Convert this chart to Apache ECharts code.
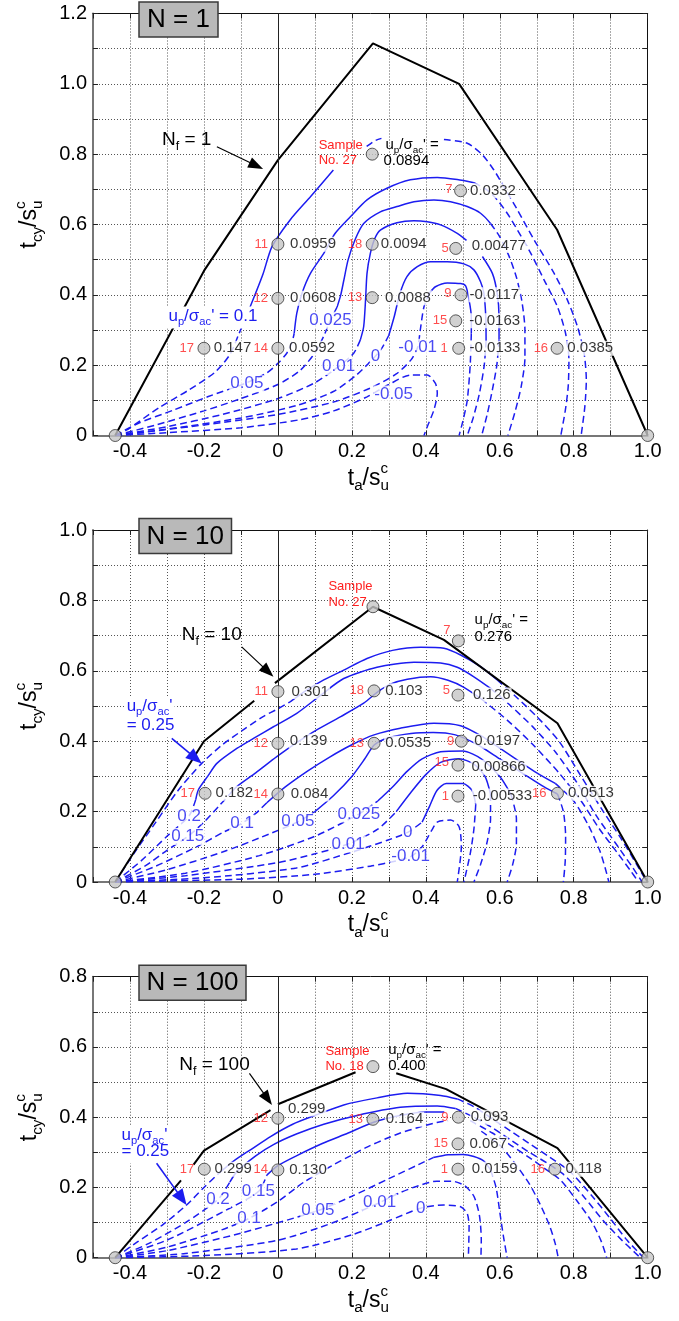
<!DOCTYPE html>
<html>
<head>
<meta charset="utf-8">
<title>Pore pressure contours</title>
<script src="https://cdn.jsdelivr.net/npm/echarts@6/dist/echarts.min.js"></script>
<style>
html,body{margin:0;padding:0;background:#fff;}
#chart{width:679px;height:1321px;}
</style>
</head>
<body>
<div id="chart"></div>
<script>
// ---------------- data ----------------
const panelTitles = ['N = 1', 'N = 10', 'N = 100'];
const panelYMax = [1.2, 1.0, 0.8];
const failureCycles = ['1', '10', '100'];
const endPoints = [[-0.44, 0], [1.0, 0]];

// failure envelopes (black)
const boundaryN1 = [
  [[-0.44,0],[-0.2,0.468],[0,0.783],[0.257,1.115],[0.49,1.0],[0.755,0.585],[1.0,0]]
];
const boundaryN10 = [
  [[-0.44,0],[-0.2,0.4],[-0.064,0.515]],
  [[-0.008,0.565],[0.257,0.782],[0.449,0.688],[0.756,0.451],[1.0,0]]
];
const boundaryN100 = [
  [[-0.44,0],[-0.262,0.22]],
  [[-0.228,0.265],[-0.2,0.305],[-0.02,0.42]],
  [[0.0,0.437],[0.21,0.528]],
  [[0.32,0.525],[0.455,0.48],[0.756,0.312],[1.0,0]]
];

// tests: [sample no., ta/su, tcy/su, up/sigma'ac]
const pointsN1 = [
  ['11',0,0.544,'0.0959'],['12',0,0.390,'0.0608'],['14',0,0.248,'0.0592'],
  ['17',-0.2,0.248,'0.147'],['18',0.255,0.544,'0.0094'],['13',0.255,0.392,'0.0088'],
  ['5',0.481,0.532,'0.00477'],['9',0.495,0.400,'-0.0117'],['15',0.481,0.326,'-0.0163'],
  ['1',0.489,0.248,'-0.0133'],['16',0.755,0.248,'0.0385'],['7',0.494,0.696,'0.0332'],
  ['27',0.255,0.800,'0.0894']
];
const pointsN10 = [
  ['11',0,0.541,'0.301'],['12',0,0.394,'0.139'],['14',0,0.250,'0.084'],
  ['17',-0.197,0.252,'0.182'],['18',0.26,0.543,'0.103'],['13',0.26,0.394,'0.0535'],
  ['5',0.487,0.531,'0.126'],['9',0.496,0.400,'0.0197'],['15',0.487,0.332,'0.00866'],
  ['1',0.487,0.244,'-0.00533'],['16',0.756,0.252,'0.0513'],['7',0.488,0.685,'0.276'],
  ['27',0.257,0.782,'']
];
const pointsN100 = [
  ['12',0,0.397,'0.299'],['17',-0.199,0.252,'0.299'],['14',0,0.250,'0.130'],
  ['13',0.257,0.394,'0.164'],['9',0.488,0.400,'0.093'],['15',0.487,0.324,'0.067'],
  ['1',0.487,0.252,'0.0159'],['16',0.749,0.252,'0.118'],['18',0.257,0.544,'0.400']
];

// contours of up/sigma'ac : [level, [[kind, points], ...]]  kind s = solid, d = dashed
const contoursN1 = [
  ['0.1', [
    ['d', [[-0.44,0],[-0.41,0.015],[-0.32,0.08],[-0.24,0.13],[-0.17,0.18],[-0.13,0.23],[-0.105,0.29],[-0.085,0.34]]],
    ['s', [[-0.085,0.34],[-0.062,0.4],[-0.04,0.46],[-0.016,0.537],[0.033,0.613],[0.088,0.679],[0.15,0.755]]],
    ['d', [[0.24,0.822],[0.262,0.838],[0.28,0.845]]],
    ['d', [[0.449,0.842],[0.512,0.831],[0.553,0.798],[0.584,0.755],[0.611,0.708],[0.648,0.641],[0.693,0.556],[0.747,0.461],[0.783,0.385],[0.81,0.31],[0.828,0.234],[0.834,0.158],[0.83,0.082],[0.82,0]]]
  ]],
  ['0.05', [
    ['d', [[-0.44,0],[-0.377,0.035],[-0.283,0.072],[-0.19,0.11],[-0.084,0.15],[-0.03,0.178],[0,0.205],[0.024,0.234],[0.038,0.265],[0.044,0.29]]],
    ['s', [[0.044,0.29],[0.051,0.347],[0.065,0.404],[0.088,0.461],[0.124,0.518],[0.155,0.575],[0.196,0.622],[0.241,0.67],[0.295,0.703],[0.358,0.727],[0.431,0.734],[0.485,0.728],[0.53,0.719]]],
    ['d', [[0.53,0.719],[0.566,0.698],[0.593,0.67],[0.62,0.632],[0.648,0.584],[0.684,0.518],[0.72,0.442],[0.756,0.366],[0.778,0.29],[0.787,0.215],[0.785,0.139],[0.777,0.07],[0.765,0]]]
  ]],
  ['0.025', [
    ['d', [[-0.44,0],[-0.33,0.03],[-0.2,0.07],[-0.1,0.105],[0,0.145],[0.06,0.185],[0.1,0.235],[0.125,0.285],[0.142,0.328],[0.16,0.365]]],
    ['s', [[0.16,0.365],[0.17,0.4],[0.178,0.44],[0.19,0.5],[0.21,0.56],[0.232,0.603],[0.277,0.636],[0.322,0.651],[0.368,0.665],[0.422,0.67],[0.467,0.665],[0.512,0.651],[0.548,0.632],[0.575,0.603]]],
    ['d', [[0.575,0.603],[0.6,0.565],[0.625,0.51],[0.645,0.45],[0.66,0.38],[0.668,0.3],[0.668,0.22],[0.658,0.14],[0.642,0.07],[0.622,0]]]
  ]],
  ['0.01', [
    ['d', [[-0.44,0],[-0.3,0.025],[-0.15,0.06],[0,0.105],[0.1,0.15],[0.164,0.196],[0.205,0.234],[0.223,0.272]]],
    ['s', [[0.223,0.272],[0.232,0.31],[0.237,0.385],[0.241,0.461],[0.25,0.518],[0.262,0.56],[0.277,0.584],[0.322,0.605],[0.368,0.611],[0.404,0.608],[0.44,0.599],[0.485,0.575],[0.51,0.555]]],
    ['s', [[0.553,0.509],[0.58,0.461],[0.593,0.404],[0.598,0.338],[0.598,0.272]]],
    ['d', [[0.598,0.272],[0.592,0.2],[0.58,0.13],[0.566,0.06],[0.551,0]]]
  ]],
  ['0', [
    ['d', [[-0.44,0],[-0.3,0.018],[-0.1,0.05],[0.05,0.085],[0.15,0.125],[0.21,0.17],[0.245,0.205],[0.264,0.226],[0.282,0.25],[0.3,0.285]]],
    ['s', [[0.3,0.285],[0.315,0.34],[0.33,0.404],[0.349,0.452],[0.377,0.48],[0.413,0.494],[0.458,0.494],[0.503,0.488],[0.53,0.471],[0.548,0.437],[0.557,0.404],[0.562,0.34],[0.563,0.27]]],
    ['d', [[0.563,0.27],[0.558,0.2],[0.545,0.12],[0.528,0.05],[0.512,0]]]
  ]],
  ['-0.01', [
    ['d', [[-0.44,0],[-0.2,0.03],[0,0.06],[0.15,0.095],[0.25,0.135],[0.32,0.175],[0.36,0.215],[0.378,0.251],[0.385,0.3],[0.395,0.366],[0.41,0.405]]],
    ['s', [[0.41,0.405],[0.426,0.423],[0.458,0.434],[0.494,0.432],[0.508,0.425],[0.517,0.385],[0.523,0.338],[0.523,0.29]]],
    ['d', [[0.523,0.29],[0.52,0.2],[0.512,0.1],[0.5,0.04],[0.49,0]]]
  ]],
  ['-0.05', [
    ['d', [[-0.44,0],[-0.3,0.008],[-0.1,0.022],[0.06,0.045],[0.151,0.07],[0.241,0.11],[0.3,0.145],[0.359,0.172],[0.404,0.172],[0.426,0.148],[0.431,0.12],[0.422,0.073],[0.404,0.025],[0.395,0]]]
  ]]
];

const contoursN10 = [
  ['0.25', [
    ['d', [[-0.44,0],[-0.39,0.08],[-0.33,0.17],[-0.27,0.26],[-0.206,0.337],[-0.15,0.39],[-0.09,0.435],[-0.04,0.47],[0,0.492],[0.033,0.512]]],
    ['s', [[0.033,0.512],[0.078,0.545],[0.124,0.574],[0.178,0.602],[0.241,0.635],[0.31,0.658],[0.386,0.667],[0.449,0.664],[0.494,0.645],[0.548,0.612],[0.593,0.574]]],
    ['d', [[0.593,0.574],[0.64,0.53],[0.7,0.47],[0.76,0.4],[0.82,0.3],[0.88,0.2],[0.93,0.12],[0.97,0.05],[0.995,0.005]]]
  ]],
  ['0.2', [
    ['d', [[-0.44,0],[-0.37,0.06],[-0.3,0.13],[-0.24,0.188],[-0.222,0.235]]],
    ['s', [[-0.222,0.235],[-0.215,0.262],[-0.19,0.3],[-0.165,0.337],[-0.11,0.38],[-0.066,0.408],[-0.012,0.441],[0.051,0.479],[0.115,0.53],[0.178,0.578],[0.268,0.61],[0.368,0.624],[0.44,0.622],[0.485,0.61],[0.53,0.583],[0.575,0.55]]],
    ['d', [[0.575,0.55],[0.63,0.5],[0.69,0.44],[0.75,0.37],[0.81,0.28],[0.86,0.19],[0.92,0.1],[0.96,0.04],[0.985,0]]]
  ]],
  ['0.15', [
    ['d', [[-0.44,0],[-0.36,0.045],[-0.3,0.09],[-0.244,0.129],[-0.2,0.17],[-0.16,0.215],[-0.13,0.25]]],
    ['s', [[-0.13,0.25],[-0.111,0.271],[-0.06,0.31],[-0.003,0.356],[0.05,0.395],[0.105,0.432],[0.17,0.47],[0.232,0.508],[0.27,0.54],[0.304,0.562],[0.35,0.576],[0.413,0.583],[0.46,0.573],[0.503,0.553],[0.55,0.52]]],
    ['d', [[0.55,0.52],[0.62,0.46],[0.69,0.39],[0.76,0.31],[0.82,0.23],[0.87,0.15],[0.92,0.08],[0.955,0.03],[0.975,0]]]
  ]],
  ['0.1', [
    ['d', [[-0.44,0],[-0.33,0.045],[-0.22,0.1],[-0.15,0.14],[-0.097,0.167],[-0.06,0.195],[-0.03,0.225]]],
    ['s', [[-0.03,0.225],[0.02,0.27],[0.08,0.315],[0.14,0.355],[0.2,0.39],[0.26,0.418],[0.331,0.437],[0.422,0.451],[0.494,0.444],[0.55,0.415],[0.6,0.38],[0.65,0.345],[0.7,0.31],[0.75,0.28]]],
    ['d', [[0.75,0.28],[0.8,0.23],[0.84,0.16],[0.87,0.09],[0.885,0.04],[0.895,0]]]
  ]],
  ['0.05', [
    ['d', [[-0.44,0],[-0.3,0.035],[-0.15,0.085],[-0.05,0.125],[0.054,0.171],[0.1,0.2]]],
    ['s', [[0.1,0.2],[0.15,0.245],[0.2,0.3],[0.235,0.35],[0.261,0.39],[0.3,0.41],[0.36,0.422],[0.42,0.425],[0.48,0.418],[0.54,0.39],[0.6,0.35],[0.66,0.31],[0.72,0.27],[0.756,0.25]]],
    ['d', [[0.756,0.25],[0.772,0.2],[0.778,0.13],[0.777,0.06],[0.772,0]]]
  ]],
  ['0.025', [
    ['d', [[-0.44,0],[-0.25,0.025],[-0.05,0.075],[0.1,0.13],[0.219,0.193],[0.27,0.23]]],
    ['s', [[0.27,0.23],[0.31,0.27],[0.35,0.315],[0.39,0.35],[0.44,0.37],[0.5,0.372],[0.55,0.35],[0.6,0.3],[0.63,0.25]]],
    ['d', [[0.63,0.25],[0.645,0.18],[0.645,0.11],[0.635,0.05],[0.62,0]]]
  ]],
  ['0.01', [
    ['d', [[-0.44,0],[-0.25,0.018],[0,0.055],[0.1,0.08],[0.19,0.108],[0.27,0.15],[0.32,0.2]]],
    ['s', [[0.32,0.2],[0.36,0.255],[0.4,0.305],[0.44,0.34],[0.49,0.35],[0.53,0.335],[0.56,0.3],[0.575,0.25]]],
    ['d', [[0.575,0.25],[0.575,0.18],[0.565,0.11],[0.548,0.05],[0.53,0]]]
  ]],
  ['0', [
    ['d', [[-0.44,0],[-0.2,0.012],[0.05,0.04],[0.2,0.085],[0.3,0.12],[0.351,0.141],[0.39,0.17]]],
    ['s', [[0.39,0.17],[0.41,0.215],[0.43,0.26],[0.455,0.28],[0.5,0.28],[0.525,0.26],[0.535,0.22]]],
    ['d', [[0.535,0.22],[0.53,0.15],[0.52,0.08],[0.503,0]]]
  ]],
  ['-0.01', [
    ['d', [[-0.44,0],[-0.1,0.008],[0.1,0.022],[0.25,0.045],[0.32,0.06],[0.359,0.072],[0.39,0.1],[0.415,0.145],[0.432,0.171],[0.467,0.176],[0.49,0.157],[0.496,0.1],[0.485,0]]]
  ]]
];

const contoursN100 = [
  ['0.25', [
    ['d', [[-0.44,0],[-0.38,0.045],[-0.31,0.095],[-0.247,0.15],[-0.2,0.2],[-0.16,0.24]]],
    ['s', [[-0.16,0.24],[-0.12,0.275],[-0.07,0.31],[-0.02,0.345],[0.04,0.38],[0.1,0.405],[0.178,0.435],[0.268,0.455],[0.35,0.468],[0.44,0.462],[0.485,0.452]]],
    ['d', [[0.485,0.452],[0.53,0.43],[0.58,0.395],[0.63,0.36],[0.68,0.325],[0.73,0.29],[0.79,0.245],[0.85,0.175],[0.9,0.11],[0.94,0.055],[0.975,0.015],[0.99,0]]]
  ]],
  ['0.2', [
    ['d', [[-0.44,0],[-0.35,0.04],[-0.25,0.1],[-0.162,0.166],[-0.13,0.215]]],
    ['s', [[-0.13,0.215],[-0.111,0.245],[-0.06,0.29],[-0.012,0.322],[0.05,0.352],[0.124,0.38],[0.214,0.405],[0.331,0.428],[0.431,0.432],[0.48,0.425]]],
    ['d', [[0.48,0.425],[0.53,0.4],[0.58,0.37],[0.63,0.335],[0.68,0.3],[0.73,0.268],[0.775,0.235],[0.83,0.17],[0.88,0.105],[0.93,0.05],[0.965,0.015],[0.98,0]]]
  ]],
  ['0.15', [
    ['d', [[-0.44,0],[-0.3,0.05],[-0.15,0.13],[-0.053,0.188],[-0.03,0.235]]],
    ['s', [[-0.03,0.235],[0,0.262],[0.05,0.29],[0.12,0.325],[0.19,0.355],[0.257,0.385],[0.33,0.405],[0.4,0.415],[0.45,0.415]]],
    ['d', [[0.52,0.39],[0.58,0.355],[0.63,0.32],[0.68,0.285],[0.72,0.255],[0.765,0.22],[0.81,0.16],[0.85,0.1],[0.875,0.045],[0.889,0]]]
  ]],
  ['0.1', [
    ['d', [[-0.44,0],[-0.3,0.03],[-0.15,0.08],[-0.078,0.112],[0,0.16],[0.07,0.215],[0.146,0.262],[0.196,0.29],[0.241,0.315],[0.295,0.34],[0.331,0.355],[0.377,0.37],[0.43,0.385],[0.46,0.39]]],
    ['d', [[0.55,0.36],[0.6,0.32],[0.64,0.27],[0.68,0.21],[0.71,0.15],[0.735,0.09],[0.75,0.04],[0.758,0]]]
  ]],
  ['0.05', [
    ['d', [[-0.44,0],[-0.3,0.02],[-0.1,0.07],[0.108,0.134],[0.2,0.175],[0.3,0.225],[0.38,0.265],[0.42,0.285]]],
    ['s', [[0.42,0.285],[0.46,0.293],[0.5,0.294],[0.53,0.288],[0.557,0.275],[0.575,0.25]]],
    ['d', [[0.575,0.25],[0.59,0.2],[0.6,0.13],[0.61,0.06],[0.62,0]]]
  ]],
  ['0.01', [
    ['d', [[-0.44,0],[-0.25,0.012],[0,0.05],[0.15,0.1],[0.275,0.157],[0.33,0.185],[0.38,0.205],[0.43,0.218],[0.47,0.218],[0.505,0.205],[0.53,0.175],[0.545,0.12],[0.55,0.05],[0.549,0]]]
  ]],
  ['0', [
    ['d', [[-0.44,0],[-0.2,0.006],[0.05,0.025],[0.2,0.065],[0.3,0.105],[0.386,0.141],[0.449,0.15],[0.494,0.145],[0.512,0.126],[0.517,0.088],[0.515,0]]]
  ]]
];

// contour level tags: [text, ta/su, tcy/su]
const contourTagsN1 = [['0.05',-0.084,0.147],['0.025',0.142,0.328],['0.01',0.164,0.196],['0',0.264,0.226],['-0.01',0.378,0.251],['-0.05',0.313,0.118]];
const contourTagsN10 = [['0.2',-0.24,0.188],['0.15',-0.244,0.129],['0.1',-0.097,0.167],['0.05',0.054,0.171],['0.025',0.219,0.193],['0.01',0.19,0.108],['0',0.351,0.141],['-0.01',0.359,0.072]];
const contourTagsN100 = [['0.2',-0.162,0.166],['0.15',-0.053,0.188],['0.1',-0.078,0.112],['0.05',0.108,0.134],['0.01',0.275,0.157],['0',0.386,0.141]];

// ---------------- layout & style ----------------
const FONT = '"Liberation Sans", Arial, Helvetica, sans-serif';
const BLUE = '#1c1cf0';
const RED = '#ff2020';

const gridRects = [
  {left: 93, top: 13.5, width: 554.7, height: 422},
  {left: 93, top: 530, width: 554.7, height: 352},
  {left: 93, top: 976.7, width: 554.7, height: 281}
];

const panels = [
  {
    points: pointsN1, contours: contoursN1, boundary: boundaryN1, tags: contourTagsN1,
    boxW: 79,
    nf: {at: [-0.3136, 0.84], from: [-0.165, 0.821], to: [-0.04, 0.758]},
    upLabels: [["u_{p}/σ_{ac}' = 0.1", -0.296, 0.338]],
    blueArrow: null,
    sample: {id: '27', no: 'No. 27', dx: -53.5, dy: [-9, 6]},
    note: {id: '27', dx: [13.2, 11.2], dy: [-9.3, 6.4]},
    valueShift: {'11':[11.7,0],'12':[11.7,0],'14':[10.7,0],'17':[9.3,0],'18':[8,0],'13':[12.3,0],'5':[15.4,-3],'9':[8,0],'15':[13,0],'1':[10.3,0],'16':[9.7,0],'7':[9,0]},
    idShift: {'5':[7,0],'9':[9.5,-1],'7':[8,-1],'15':[8.5,0],'1':[11,0],'16':[9,0]}
  },
  {
    points: pointsN10, contours: contoursN10, boundary: boundaryN10, tags: contourTagsN10,
    boxW: 92.5,
    nf: {at: [-0.26, 0.702], from: [-0.098, 0.668], to: [-0.012, 0.583]},
    upLabels: [["u_{p}/σ_{ac}'", -0.409, 0.498], ['= 0.25', -0.409, 0.444]],
    blueArrow: {from: [-0.287, 0.408], to: [-0.206, 0.337]},
    sample: {id: '27', no: 'No. 27', dx: -44.5, dy: [-20, -4]},
    note: {id: '7', dx: [16.2, 16.2], dy: [-21, -4]},
    valueShift: {'11':[13,0],'12':[11.3,-2],'14':[12.3,0],'17':[10,0],'18':[10.6,0],'13':[10.6,0],'5':[14.6,0],'9':[12.5,0],'15':[13,2],'1':[14.3,0],'16':[10,0]},
    idShift: {'5':[8,-5],'9':[7,0],'15':[9,-3],'1':[9,0],'16':[11,0],'7':[8,-10]}
  },
  {
    points: pointsN100, contours: contoursN100, boundary: boundaryN100, tags: contourTagsN100,
    boxW: 107,
    nf: {at: [-0.267, 0.549], from: [-0.077, 0.525], to: [-0.016, 0.435]},
    upLabels: [["u_{p}/σ_{ac}'", -0.423, 0.349], ['= 0.25', -0.423, 0.302]],
    blueArrow: {from: [-0.328, 0.269], to: [-0.247, 0.15]},
    sample: {id: '18', no: 'No. 18', dx: -47.5, dy: [-15, -0.6]},
    note: {id: '18', dx: [15.2, 15.2], dy: [-16.6, -0.6]},
    valueShift: {'12':[9.5,-9.3],'17':[9.6,0],'14':[10.8,0],'13':[12.3,0],'9':[12,0],'15':[11,0],'1':[13.3,0],'16':[10,0]},
    idShift: {}
  }
];

const SYM = 12;

function tickFormatter(v) {
  const k = Math.round(v * 10);
  if (k % 2 !== 0) return '';
  if (k === 0) return '0';
  return (k / 10).toFixed(1);
}

// ---------------- axes ----------------
const xAxes = [], yAxes = [];
gridRects.forEach((g, i) => {
  xAxes[i] = {
    gridIndex: i, type: 'value', min: -0.5, max: 1.0, interval: 0.1, position: 'bottom',
    axisLine: {show: true, onZero: false, lineStyle: {color: '#777', width: 2}},
    axisTick: {show: true, inside: true, length: 5, lineStyle: {color: '#222', width: 1}},
    axisLabel: {formatter: tickFormatter, fontSize: 20, color: '#000', fontFamily: FONT, margin: 6, showMinLabel: true, showMaxLabel: true},
    splitLine: {show: true, lineStyle: {color: '#555', width: 1, type: [1, 2]}}
  };
  xAxes[3 + i] = {
    gridIndex: i, type: 'value', min: -0.5, max: 1.0, interval: 0.1, position: 'top',
    axisLine: {show: true, onZero: false, lineStyle: {color: '#111', width: 1}},
    axisTick: {show: true, inside: true, length: 5, lineStyle: {color: '#222'}},
    axisLabel: {show: false}, splitLine: {show: false}
  };
  yAxes[i] = {
    gridIndex: i, type: 'value', min: 0, max: panelYMax[i], interval: 0.1, position: 'left',
    axisLine: {show: true, onZero: false, lineStyle: {color: '#777', width: 2}},
    axisTick: {show: true, inside: true, length: 5, lineStyle: {color: '#222', width: 1}},
    axisLabel: {formatter: tickFormatter, fontSize: 20, color: '#000', fontFamily: FONT, margin: 6},
    splitLine: {show: true, lineStyle: {color: '#555', width: 1, type: [1, 2]}}
  };
  yAxes[3 + i] = {
    gridIndex: i, type: 'value', min: 0, max: panelYMax[i], interval: 0.1, position: 'right',
    axisLine: {show: true, onZero: false, lineStyle: {color: '#111', width: 1}},
    axisTick: {show: true, inside: true, length: 5, lineStyle: {color: '#222'}},
    axisLabel: {show: false}, splitLine: {show: false}
  };
});

// ---------------- series ----------------
const series = [];
panels.forEach((P, i) => {
  const ax = {xAxisIndex: i, yAxisIndex: i};
  P.contours.forEach(([lvl, pieces]) => {
    pieces.forEach(([kind, pts]) => {
      series.push(Object.assign({
        type: 'line', name: 'up ' + lvl, data: pts, symbol: 'none', smooth: 0.25, silent: true, z: 3,
        lineStyle: {color: BLUE, width: 1.5, type: kind === 'd' ? [7, 4] : 'solid'}
      }, ax));
    });
  });
  P.boundary.forEach((seg, k) => {
    const s = Object.assign({
      type: 'line', name: 'failure', data: seg, symbol: 'none', silent: true, z: 4,
      lineStyle: {color: '#000', width: 2}
    }, ax);
    if (k === 0) {
      s.markLine = {silent: true, symbol: ['none', 'none'], label: {show: false},
        lineStyle: {color: '#222', width: 1, type: 'solid'}, data: [{xAxis: 0}]};
    }
    series.push(s);
  });
  // contour level tags
  series.push(Object.assign({
    type: 'scatter', name: 'tags', symbolSize: 1, silent: true, z: 6,
    itemStyle: {color: 'rgba(0,0,0,0)'},
    label: {show: true, position: 'inside', color: BLUE, fontSize: 17, fontFamily: FONT,
      backgroundColor: '#fff', padding: [0, 1], formatter: p => p.data.tag},
    data: P.tags.map(t => ({value: [t[1], t[2]], tag: t[0]}))
  }, ax));
  // red sample numbers
  series.push(Object.assign({
    type: 'scatter', name: 'ids', symbolSize: SYM, silent: true, z: 9,
    itemStyle: {color: 'rgba(0,0,0,0)', borderWidth: 0},
    data: P.points.filter(p => p[0] !== P.sample.id).map(p => {
      const sh = P.idShift[p[0]] || [10, 0];
      return {value: [p[1], p[2]], label: {show: true, position: 'left', distance: 0,
        offset: [-(sh[0] - SYM / 2), sh[1]], formatter: p[0], color: RED, fontSize: 13, fontFamily: FONT}};
    })
  }, ax));
  // test points with their values
  series.push(Object.assign({
    type: 'scatter', name: 'tests', symbolSize: SYM, silent: true, z: 10,
    itemStyle: {color: '#c6c6c6', borderColor: '#333', borderWidth: 1},
    data: P.points.map(p => {
      const plain = p[0] !== P.note.id && p[0] !== P.sample.id;
      const sh = P.valueShift[p[0]] || [11, 0];
      return {value: [p[1], p[2]], label: {show: plain, position: 'right', distance: 0,
        offset: [sh[0] - SYM / 2 - 1, sh[1]], formatter: p[3], color: '#000', fontSize: 15, fontFamily: FONT,
        backgroundColor: '#fff', padding: [0, 1]}};
    }).concat(endPoints.map(e => ({value: e, label: {show: false}})))
  }, ax));
});

const chart = echarts.init(document.getElementById('chart'), null, {renderer: 'canvas'});
chart.setOption({
  animation: false,
  backgroundColor: '#fff',
  grid: gridRects.map(g => Object.assign({containLabel: false}, g)),
  xAxis: xAxes,
  yAxis: yAxes,
  series: series
});

// ---------------- text with sub/superscripts ----------------
const measureCtx = document.createElement('canvas').getContext('2d');
function tw(t, size) { measureCtx.font = size + 'px ' + FONT; return measureCtx.measureText(t).width; }
function tx(t, x, y, size, color, align) {
  return {type: 'text', z: 101, style: {text: t, x: x, y: y, font: size + 'px ' + FONT, fill: color,
    align: align || 'left', verticalAlign: 'middle', textAlign: align || 'left', textVerticalAlign: 'middle'}};
}
function parseMath(str) {
  const segs = []; let buf = ''; let i = 0;
  while (i < str.length) {
    const c = str[i];
    if ((c === '_' || c === '^') && str[i + 1] === '{') {
      if (buf) { segs.push({t: buf, k: 'n'}); buf = ''; }
      const j = str.indexOf('}', i);
      const t = str.slice(i + 2, j);
      const last = segs[segs.length - 1];
      if (c === '^' && last && last.k === 'b' && last.sup === undefined) last.sup = t;
      else segs.push({t: t, k: c === '_' ? 'b' : 'p'});
      i = j + 1;
    } else { buf += c; i++; }
  }
  if (buf) segs.push({t: buf, k: 'n'});
  return segs;
}
function mathText(str, size, color, x, y, opts) {
  opts = opts || {};
  const small = Math.round(size * 0.66 * 10) / 10;
  const kids = []; let cx = 0;
  parseMath(str).forEach(s => {
    if (s.k === 'n') { kids.push(tx(s.t, cx, 0, size, color)); cx += tw(s.t, size); }
    else {
      const dy = s.k === 'b' ? size * 0.33 : -size * 0.4;
      kids.push(tx(s.t, cx, dy, small, color));
      let w = tw(s.t, small);
      if (s.sup !== undefined) { kids.push(tx(s.sup, cx, -size * 0.4, small, color)); w = Math.max(w, tw(s.sup, small)); }
      cx += w;
    }
  });
  const sh = opts.align === 'center' ? -cx / 2 : (opts.align === 'right' ? -cx : 0);
  kids.forEach(k => { k.style.x += sh; });
  if (opts.bg) kids.unshift({type: 'rect', z: 100, shape: {x: sh - 2, y: -size * 0.6, width: cx + 4, height: size * 1.3}, style: {fill: opts.bg}});
  return {type: 'group', x: x, y: y, rotation: opts.rotation || 0, z: 100, children: kids};
}
function arrow(p0, p1, color, headLen, headW, lw) {
  const dx = p1[0] - p0[0], dy = p1[1] - p0[1], L = Math.hypot(dx, dy), ux = dx / L, uy = dy / L;
  const bx = p1[0] - ux * headLen, by = p1[1] - uy * headLen;
  return [
    {type: 'line', z: 100, shape: {x1: p0[0], y1: p0[1], x2: bx + ux * 2, y2: by + uy * 2}, style: {stroke: color, lineWidth: lw}},
    {type: 'polygon', z: 100, shape: {points: [[p1[0], p1[1]], [bx - uy * headW / 2, by + ux * headW / 2], [bx + uy * headW / 2, by - ux * headW / 2]]}, style: {fill: color}}
  ];
}

// ---------------- annotations ----------------
const graphics = [];
panels.forEach((P, i) => {
  const g = gridRects[i];
  const px = d => chart.convertToPixel({xAxisIndex: i, yAxisIndex: i}, d);

  // panel box
  graphics.push({type: 'rect', z: 100, shape: {x: g.left + 46, y: g.top - 11.5, width: P.boxW, height: 35},
    style: {fill: '#b9b9b9', stroke: '#3a3a3a', lineWidth: 1.5}});
  graphics.push(tx(panelTitles[i], g.left + 46 + P.boxW / 2, g.top - 11.5 + 18, 26, '#000', 'center'));

  // axis titles
  graphics.push(mathText('t_{a}/s_{u}^{c}', 23, '#000', g.left + g.width / 2 - 2, g.top + g.height + 43, {align: 'center'}));
  graphics.push(mathText('t_{cy}/s_{u}^{c}', 23, '#000', 30, g.top + g.height / 2, {align: 'center', rotation: Math.PI / 2}));

  // failure envelope label with arrow
  const nfAt = px(P.nf.at);
  graphics.push(mathText('N_{f} = ' + failureCycles[i], 19, '#000', nfAt[0], nfAt[1]));
  arrow(px(P.nf.from), px(P.nf.to), '#000', 15, 11, 1.2).forEach(e => graphics.push(e));

  // contour family label
  P.upLabels.forEach(u => {
    const p = px([u[1], u[2]]);
    graphics.push(mathText(u[0], 17, BLUE, p[0], p[1], {bg: '#fff'}));
  });
  if (P.blueArrow) arrow(px(P.blueArrow.from), px(P.blueArrow.to), BLUE, 16, 13, 1.6).forEach(e => graphics.push(e));

  // sample annotation
  const sp = P.points.find(p => p[0] === P.sample.id);
  const s = px([sp[1], sp[2]]);
  graphics.push(tx('Sample', s[0] + P.sample.dx, s[1] + P.sample.dy[0], 13, RED));
  graphics.push(tx(P.sample.no, s[0] + P.sample.dx, s[1] + P.sample.dy[1], 13, RED));

  // up/sigma' note
  const np = P.points.find(p => p[0] === P.note.id);
  const n = px([np[1], np[2]]);
  graphics.push(mathText("u_{p}/σ_{ac}' =", 15, '#000', n[0] + P.note.dx[0], n[1] + P.note.dy[0]));
  graphics.push(tx(np[3], n[0] + P.note.dx[1], n[1] + P.note.dy[1], 15, '#000'));
});

chart.setOption({graphic: {elements: graphics}});
</script>
</body>
</html>
